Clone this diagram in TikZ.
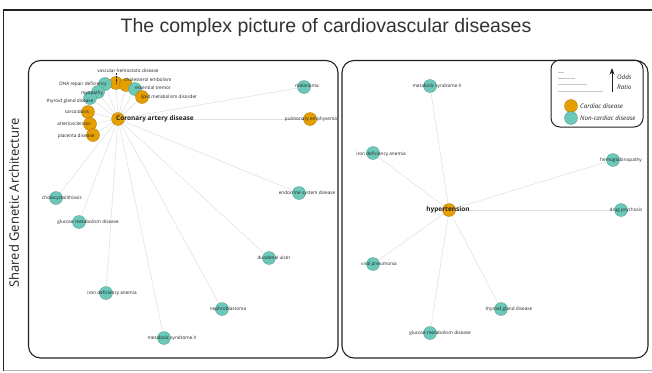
\documentclass[tikz,border=0pt]{standalone}
\usepackage{fontspec}
\setmainfont{Open Sans}
\newfontfamily\titlefont{Liberation Sans}
\usetikzlibrary{arrows.meta}
\definecolor{Cardiac}{HTML}{E69F00}
\definecolor{NonCardiac}{HTML}{6CC9BA}
\definecolor{Edge}{HTML}{E2E2E2}
\definecolor{Ink}{HTML}{222222}

\tikzset{
  disease/.style={circle,draw=#1!75!black,fill=#1,line width=0.3pt,minimum size=13pt,inner sep=0pt},
  lbl/.style={font=\fontsize{4.7}{5}\selectfont,inner sep=0pt,text=Ink},
  hublbl/.style={font=\bfseries\fontsize{6.5}{7}\selectfont,inner sep=0pt,text=Ink},
  legtext/.style={font=\itshape\fontsize{6.2}{7}\selectfont,inner sep=0pt,anchor=west,text=Ink},
  edge/.style={Edge,line width=0.6pt},
  panel/.style={draw=Ink,line width=1.1pt,rounded corners=12pt}
}

% name/x/y/colour/label x/label y/text
\newcommand\cadlist{vhd/116/83/Cardiac/128/71/vascular hemostatic disease,
  dna/105/84/NonCardiac/83/84/DNA repair deficiency,
  myo/98/92/NonCardiac/92/93/myopathy,
  thy/90/98/NonCardiac/70/101/thyroid gland disease,
  chol/126/85/Cardiac/148/80/cholesterol embolism,
  ess/135/89/NonCardiac/153/88/essential tremor,
  lipid/142/97/Cardiac/169/97/lipid metabolism disorder,
  sarc/88/112/Cardiac/77/112/sarcoidosis,
  arter/90/124/Cardiac/74/124/arteriosclerosis,
  plac/93/135/Cardiac/76/136/placenta disease,
  mel/304/87/NonCardiac/307/86/melanoma,
  pulm/310/119/Cardiac/311/119/pulmonary emphysema,
  chole/56/198/NonCardiac/62/198/cholecystolithiasis,
  gluc/79/222/NonCardiac/88/222/glucose metabolism disease,
  endo/299/193/NonCardiac/307/193/endocrine system disease,
  duod/269/258/NonCardiac/274/258/duodenal ulcer,
  iron/106/293/NonCardiac/112/293/iron deficiency anemia,
  neph/222/309/NonCardiac/228/309/nephroblastoma,
  mets/164/338/NonCardiac/172/338/metabolic syndrome X}
\newcommand\htnlist{rmets/430/86/NonCardiac/437/86/metabolic syndrome X,
  riron/373/153/NonCardiac/381/154/iron deficiency anemia,
  hemo/613/160/NonCardiac/621/160/hemoglobinopathy,
  drug/621/210/NonCardiac/626/210/drug psychosis,
  viral/373/264/NonCardiac/379/264/viral pneumonia,
  rthy/501/309/NonCardiac/509/309/thyroid gland disease,
  rgluc/430/333/NonCardiac/440/333/glucose metabolism disease}

\begin{document}
\begin{tikzpicture}[x=1pt,y=-1pt,>=Stealth]
  \useasboundingbox (0,0) rectangle (652,372);
  \draw[Ink,line width=1.3pt] (652,10) -- (3.5,10) -- (3.5,370.5);
  \draw[gray!60,line width=1pt] (3.5,370.5) -- (652,370.5);
  \node[font=\titlefont\fontsize{19.5}{22}\selectfont,text=black!80] (title) at (326,27) {The complex picture of cardiovascular diseases};
  \node[rotate=90,font=\fontsize{13}{15}\selectfont,text=Ink] (axis) at (14,203) {Shared Genetic Architecture};
  \draw[panel] (28.5,60.5) rectangle (338,358);
  \draw[panel] (342,60.5) rectangle (648,358);

  % coronary artery disease
  \node[disease=Cardiac] (cad) at (118,119) {};
  \foreach \n/\x/\y/\c/\lx/\ly/\t in \cadlist{
    \node[disease=\c] (\n) at (\x,\y) {};
    \draw[edge] (cad) -- (\n);
  }
  \foreach \n/\x/\y/\c/\lx/\ly/\t in \cadlist{\node[lbl] (\n-l) at (\lx,\ly) {\t};}
  \draw[densely dotted,Ink,line width=0.4pt] (vhd-l.south -| vhd) -- (vhd.center);
  \node[hublbl,anchor=west] (cad-l) at (116,119) {Coronary artery disease};

  % hypertension
  \node[disease=Cardiac] (htn) at (449,210) {};
  \foreach \n/\x/\y/\c/\lx/\ly/\t in \htnlist{
    \node[disease=\c] (\n) at (\x,\y) {};
    \draw[edge] (htn) -- (\n);
  }
  \foreach \n/\x/\y/\c/\lx/\ly/\t in \htnlist{\node[lbl] (\n-l) at (\lx,\ly) {\t};}
  \node[hublbl] (htn-l) at (448,210) {hypertension};

  % legend
  \draw[panel,rounded corners=9pt,line width=1pt] (551,60) rectangle (643,127);
  \foreach \y/\l/\w in {72/6/0.4,78/17/0.6,84/29/0.8,91/45/1.0}{\draw[gray!45,line width=\w pt] (558,\y) -- ++(\l,0);}
  \coordinate (or-lo) at (612,92);
  \coordinate (or-hi) at (612,68);
  \draw[->,Ink,line width=0.8pt] (or-lo) -- (or-hi);
  \node[legtext] (odds) at (617,77) {Odds};
  \node[legtext] (ratio) at (617,87) {Ratio};
  \node[disease=Cardiac] (key-c) at (571,106) {};
  \node[legtext] (key-c-l) at (580,106) {Cardiac disease};
  \node[disease=NonCardiac] (key-n) at (571,118) {};
  \node[legtext] (key-n-l) at (580,118) {Non-cardiac disease};
\end{tikzpicture}
\end{document}
